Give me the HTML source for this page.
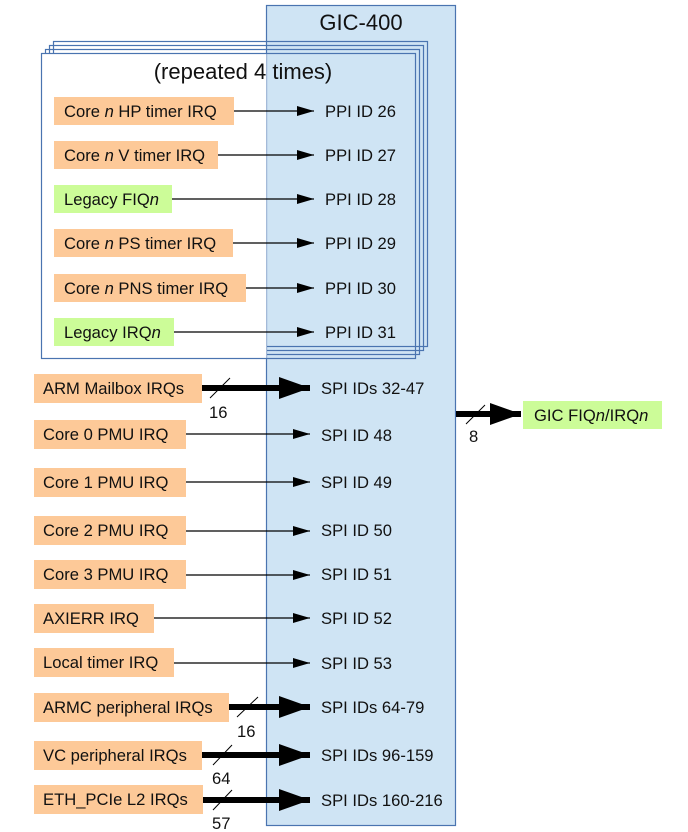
<!DOCTYPE html>
<html><head><meta charset="utf-8"><style>
html,body{margin:0;padding:0;background:#fff}
svg{display:block}
text{font-family:"Liberation Sans",Arial,sans-serif;font-size:16.6px;fill:#111}
</style></head><body>
<svg width="688" height="832" viewBox="0 0 688 832" xmlns="http://www.w3.org/2000/svg">
<defs>
<marker id="a" markerWidth="17" markerHeight="10" refX="17" refY="5" orient="auto" markerUnits="userSpaceOnUse"><path d="M0,0 L17,5 L0,10 z" fill="#000"/></marker>
<marker id="b" markerWidth="31" markerHeight="22" refX="31" refY="11" orient="auto" markerUnits="userSpaceOnUse"><path d="M0,0 L31,11 L0,22 z" fill="#000"/></marker>
</defs>
<rect x="266.5" y="5.5" width="189" height="820" fill="#cfe4f4" stroke="#4a74b0" stroke-width="1.2"/>
<text x="361" y="30" text-anchor="middle" style="font-size:22px">GIC-400</text>
<rect x="53.5" y="41.5" width="374" height="305" fill="none" stroke="#4a74b0" stroke-width="1.2"/>
<rect x="49.5" y="45.5" width="374" height="305" fill="none" stroke="#4a74b0" stroke-width="1.2"/>
<rect x="45.5" y="49.5" width="374" height="305" fill="none" stroke="#4a74b0" stroke-width="1.2"/>
<rect x="41.5" y="53.5" width="225" height="305" fill="#fff"/>
<rect x="41.5" y="53.5" width="374" height="305" fill="none" stroke="#4a74b0" stroke-width="1.2"/>
<text x="243" y="79" text-anchor="middle" style="font-size:22px">(repeated 4 times)</text>

<g>
<rect x="54" y="97" width="180" height="28" fill="#fdc998"/><text x="64" y="117">Core <tspan font-style="italic">n</tspan> HP timer IRQ</text>
<line x1="234" y1="111" x2="314" y2="111" stroke="#000" stroke-width="1.2" marker-end="url(#a)"/><text x="325" y="117">PPI ID 26</text>
<rect x="54" y="141" width="164" height="28" fill="#fdc998"/><text x="64" y="161">Core <tspan font-style="italic">n</tspan> V timer IRQ</text>
<line x1="218" y1="155" x2="314" y2="155" stroke="#000" stroke-width="1.2" marker-end="url(#a)"/><text x="325" y="161">PPI ID 27</text>
<rect x="54" y="185" width="118" height="28" fill="#ccfc98"/><text x="64" y="205">Legacy FIQ<tspan font-style="italic">n</tspan></text>
<line x1="172" y1="199" x2="314" y2="199" stroke="#000" stroke-width="1.2" marker-end="url(#a)"/><text x="325" y="205">PPI ID 28</text>
<rect x="54" y="229" width="179" height="28" fill="#fdc998"/><text x="64" y="249">Core <tspan font-style="italic">n</tspan> PS timer IRQ</text>
<line x1="233" y1="243" x2="314" y2="243" stroke="#000" stroke-width="1.2" marker-end="url(#a)"/><text x="325" y="249">PPI ID 29</text>
<rect x="54" y="274" width="192" height="28" fill="#fdc998"/><text x="64" y="294">Core <tspan font-style="italic">n</tspan> PNS timer IRQ</text>
<line x1="246" y1="288" x2="314" y2="288" stroke="#000" stroke-width="1.2" marker-end="url(#a)"/><text x="325" y="294">PPI ID 30</text>
<rect x="54" y="318" width="120" height="28" fill="#ccfc98"/><text x="64" y="338">Legacy IRQ<tspan font-style="italic">n</tspan></text>
<line x1="174" y1="332" x2="314" y2="332" stroke="#000" stroke-width="1.2" marker-end="url(#a)"/><text x="325" y="338">PPI ID 31</text>
</g>

<g>
<rect x="34" y="374" width="168" height="29" fill="#fdc998"/><text x="43" y="394">ARM Mailbox IRQs</text>
<line x1="202" y1="388" x2="310" y2="388" stroke="#000" stroke-width="6" marker-end="url(#b)"/>
<line x1="210" y1="398" x2="230" y2="378" stroke="#000" stroke-width="1"/><text x="209" y="418">16</text>
<text x="321" y="394">SPI IDs 32-47</text>

<rect x="34" y="420" width="152" height="29" fill="#fdc998"/><text x="43" y="440">Core 0 PMU IRQ</text>
<line x1="186" y1="434" x2="310" y2="434" stroke="#000" stroke-width="1.2" marker-end="url(#a)"/><text x="321" y="441">SPI ID 48</text>
<rect x="34" y="468" width="152" height="29" fill="#fdc998"/><text x="43" y="488">Core 1 PMU IRQ</text>
<line x1="186" y1="482" x2="310" y2="482" stroke="#000" stroke-width="1.2" marker-end="url(#a)"/><text x="321" y="488">SPI ID 49</text>
<rect x="34" y="516" width="152" height="29" fill="#fdc998"/><text x="43" y="536">Core 2 PMU IRQ</text>
<line x1="186" y1="531" x2="310" y2="531" stroke="#000" stroke-width="1.2" marker-end="url(#a)"/><text x="321" y="536">SPI ID 50</text>
<rect x="34" y="560" width="152" height="29" fill="#fdc998"/><text x="43" y="580">Core 3 PMU IRQ</text>
<line x1="186" y1="575" x2="310" y2="575" stroke="#000" stroke-width="1.2" marker-end="url(#a)"/><text x="321" y="580">SPI ID 51</text>
<rect x="34" y="604" width="120" height="29" fill="#fdc998"/><text x="43" y="624">AXIERR IRQ</text>
<line x1="154" y1="618" x2="310" y2="618" stroke="#000" stroke-width="1.2" marker-end="url(#a)"/><text x="321" y="624">SPI ID 52</text>
<rect x="34" y="648" width="140" height="29" fill="#fdc998"/><text x="43" y="668">Local timer IRQ</text>
<line x1="174" y1="663" x2="310" y2="663" stroke="#000" stroke-width="1.2" marker-end="url(#a)"/><text x="321" y="669">SPI ID 53</text>

<rect x="34" y="693" width="195" height="29" fill="#fdc998"/><text x="43" y="713">ARMC peripheral IRQs</text>
<line x1="229" y1="707" x2="310" y2="707" stroke="#000" stroke-width="6" marker-end="url(#b)"/>
<line x1="237" y1="717" x2="258" y2="697" stroke="#000" stroke-width="1"/><text x="237" y="737">16</text>
<text x="321" y="713">SPI IDs 64-79</text>

<rect x="34" y="741" width="168" height="29" fill="#fdc998"/><text x="43" y="761">VC peripheral IRQs</text>
<line x1="202" y1="755" x2="310" y2="755" stroke="#000" stroke-width="6" marker-end="url(#b)"/>
<line x1="213" y1="765" x2="232" y2="745" stroke="#000" stroke-width="1"/><text x="212" y="784">64</text>
<text x="321" y="761">SPI IDs 96-159</text>

<rect x="34" y="785" width="169" height="29" fill="#fdc998"/><text x="43" y="805">ETH_PCIe L2 IRQs</text>
<line x1="203" y1="800" x2="310" y2="800" stroke="#000" stroke-width="6" marker-end="url(#b)"/>
<line x1="213" y1="810" x2="232" y2="790" stroke="#000" stroke-width="1"/><text x="212" y="829">57</text>
<text x="321" y="806">SPI IDs 160-216</text>
</g>

<line x1="456" y1="414" x2="521" y2="414" stroke="#000" stroke-width="6" marker-end="url(#b)"/>
<line x1="466" y1="424" x2="485" y2="405" stroke="#000" stroke-width="1"/><text x="469" y="442">8</text>
<rect x="523" y="401" width="139" height="28" fill="#ccfc98"/>
<text x="534" y="421">GIC FIQ<tspan font-style="italic">n</tspan>/IRQ<tspan font-style="italic">n</tspan></text>
</svg>
</body></html>
